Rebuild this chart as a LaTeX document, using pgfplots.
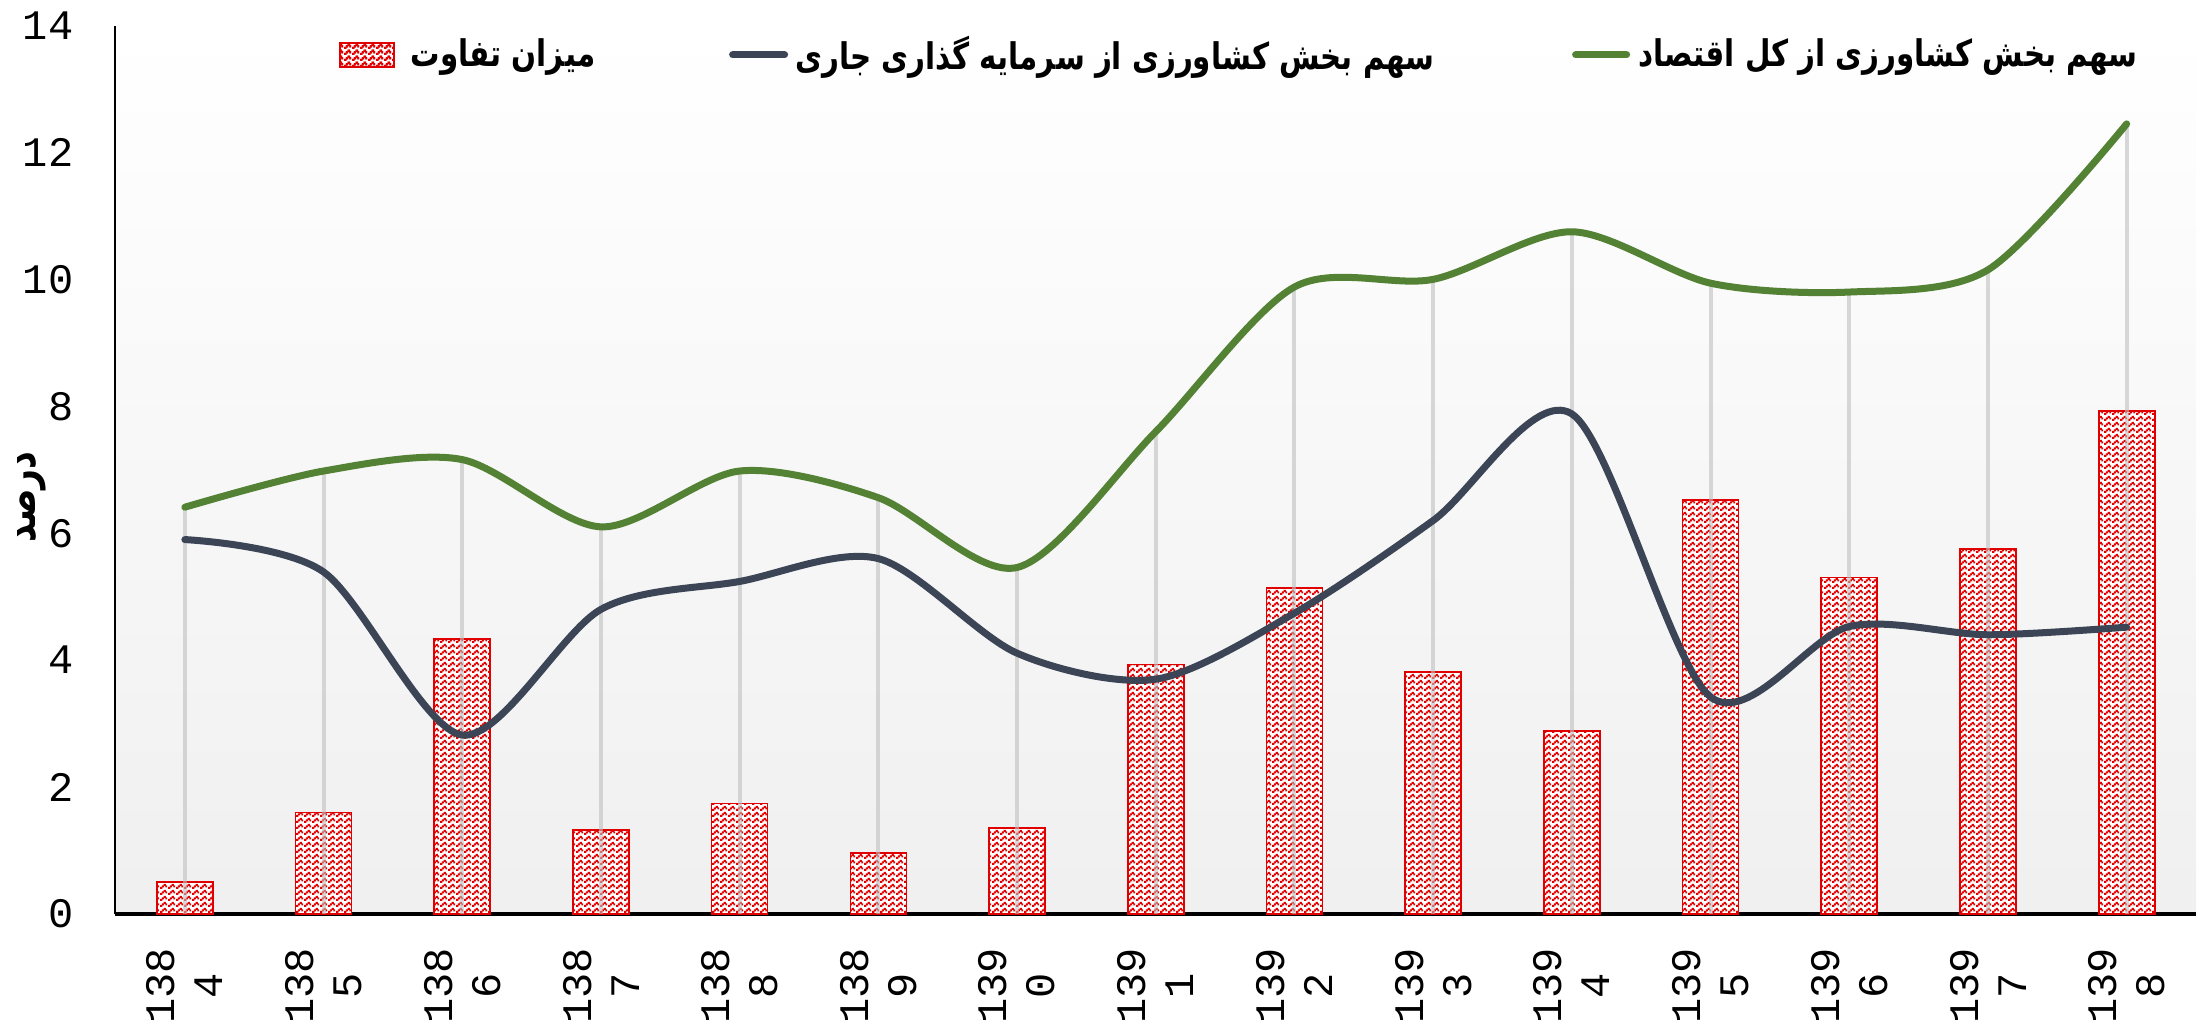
\documentclass[border=0pt]{standalone}
\usepackage{pgfplots}
\pgfplotsset{compat=1.18}
\usepackage{pgfplotstable}
\usepackage{fontspec}
\usetikzlibrary{patterns}
\TeXXeTstate=1
\newfontfamily\legfont[Script=Arabic, FakeStretch=0.8]{DejaVu Sans}
\newfontfamily\tickfont{Liberation Mono}
\definecolor{lgreen}{HTML}{548235}
\definecolor{ldark}{HTML}{3B4556}
\definecolor{bred}{HTML}{E00000}
\pgfdeclarepatternformonly{zigdots}{\pgfqpoint{0pt}{0pt}}{\pgfqpoint{2.4pt}{1.8pt}}{\pgfqpoint{2.4pt}{1.8pt}}{%
  \pgfpathrectangle{\pgfqpoint{0pt}{0pt}}{\pgfqpoint{0.8pt}{0.75pt}}%
  \pgfpathrectangle{\pgfqpoint{0.6pt}{0.55pt}}{\pgfqpoint{0.8pt}{0.75pt}}%
  \pgfpathrectangle{\pgfqpoint{1.2pt}{1.05pt}}{\pgfqpoint{0.8pt}{0.75pt}}%
  \pgfpathrectangle{\pgfqpoint{1.8pt}{0.55pt}}{\pgfqpoint{0.6pt}{0.75pt}}%
  \pgfusepath{fill}}
\pgfplotstableread{
x diff inv total
0 0.50 5.90 6.41
1 1.60 5.39 6.98
2 4.33 2.82 7.16
3 1.32 4.80 6.10
4 1.74 5.24 6.98
5 0.96 5.60 6.56
6 1.36 4.11 5.46
7 3.93 3.70 7.60
8 5.14 4.74 9.88
9 3.81 6.20 10.00
10 2.88 7.88 10.75
11 6.52 3.42 9.94
12 5.30 4.53 9.80
13 5.75 4.40 10.15
14 7.93 4.52 12.45
}\datatable
\begin{document}
\begin{tikzpicture}
\begin{axis}[
  at={(0,0)}, anchor=south west,
  scale only axis, width=624.15pt, height=266.55pt,
  xmin=-0.5, xmax=14.5, ymin=0, ymax=14,
  axis x line*=bottom, axis y line*=left,
  axis line style={black, line width=0.6pt, -},
  x axis line style={line width=1pt},
  axis background/.style={shade, top color=white, bottom color=black!6},
  major tick length=0pt,
  xtick={0,...,14},
  xticklabels={{138\\4},{138\\5},{138\\6},{138\\7},{138\\8},{138\\9},{139\\0},{139\\1},{139\\2},{139\\3},{139\\4},{139\\5},{139\\6},{139\\7},{139\\8}},
  xticklabel style={yshift=-10pt, rotate=90, anchor=east, align=center, inner sep=0pt,
    font=\tickfont\fontsize{12.6}{14.4}\selectfont},
  ytick={0,2,...,14},
  /pgf/number format/assume math mode=true,
  yticklabel style={anchor=east, inner sep=0pt, xshift=-12.45pt,
    font=\tickfont\fontsize{12.6}{14.4}\selectfont},
  ylabel={\legfont\bfseries\fontsize{13}{15}\selectfont\beginR درصد\endR},
  ylabel style={at={(axis description cs:-0.0401,0.469)}, anchor=center},
  legend columns=3,
  legend cell align=left,
  legend style={at={(axis description cs:0.1074,0.967)}, anchor=west, draw=none, fill=none,
    inner sep=0pt, outer sep=0pt, column sep=0pt, row sep=0pt,
    nodes={inner sep=0pt, outer sep=0pt}},
]
\addplot[ybar, bar width=16.8pt, bar shift=0pt, draw=bred, line width=0.5pt, fill=white,
  postaction={pattern=zigdots, pattern color=bred},
  legend image code/.code={\draw[draw=bred, line width=0.5pt, fill=white, postaction={pattern=zigdots, pattern color=bred}] (0pt,-3.6pt) rectangle (16.2pt,3.6pt);}]
  table[x=x, y=diff]{\datatable};
\addlegendentry{\makebox[99.3pt][l]{\hspace*{4.8pt}\legfont\bfseries\fontsize{11}{13}\selectfont\beginR میزان تفاوت\endR}}
\addplot[ycomb, no markers, draw=black!25, opacity=0.6, line width=1.2pt, forget plot]
  table[x=x, y=total]{\datatable};
\addplot[smooth, no markers, color=ldark, line width=2.1pt, line cap=round,
  legend image code/.code={\path (0pt,0pt) (17.7pt,0pt); \draw[line width=2.1pt, line cap=round] (1.05pt,0pt) -- (16.65pt,0pt);}]
  table[x=x, y=inv]{\datatable};
\addlegendentry{\makebox[233.1pt][l]{\hspace*{1.2pt}\legfont\bfseries\fontsize{11}{13}\selectfont\beginR سهم بخش کشاورزی از سرمایه گذاری جاری\endR}}
\addplot[smooth, no markers, color=lgreen, line width=2.1pt, line cap=round,
  legend image code/.code={\path (0pt,0pt) (17.4pt,0pt); \draw[line width=2.1pt, line cap=round] (1.05pt,0pt) -- (16.35pt,0pt);}]
  table[x=x, y=total]{\datatable};
\addlegendentry{\hspace*{1.5pt}\legfont\bfseries\fontsize{11}{13}\selectfont\beginR سهم بخش کشاورزی از کل اقتصاد\endR}
\end{axis}
\pgfresetboundingbox
\useasboundingbox (-34.65pt,-31.8pt) rectangle (626.55pt,274.2pt);
\end{tikzpicture}
\end{document}
